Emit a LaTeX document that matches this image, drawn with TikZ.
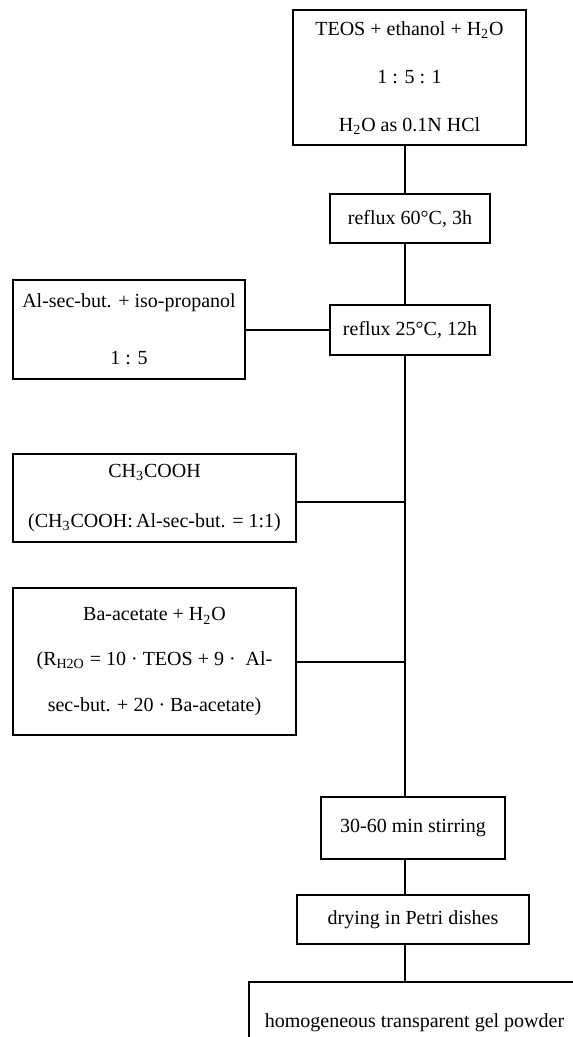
\documentclass[tikz,border=0pt]{standalone}
\usepackage{fontspec}
\setmainfont{Liberation Serif}
\usepackage{tikz}
\usetikzlibrary{positioning,calc}

\tikzset{
    stepbox/.style={draw, line width=1pt, align=center, inner sep=0pt,
        font=\fontsize{10}{#1}\selectfont},
    stepbox/.default=12,
    link/.style={line width=1pt}
}

\begin{document}
\begin{tikzpicture}[x=0.5pt, y=-0.5pt]
    \useasboundingbox (0,0) rectangle (572,1037);
    \coordinate (spine) at (405,0);

    % Main line
    \node[stepbox=24, minimum width=116.5pt, minimum height=67.5pt] (teos) at (409.5,78)
        {TEOS + ethanol + H\textsubscript{2}O\\ 1 : 5 : 1\\ H\textsubscript{2}O as 0.1N HCl};
    \node[stepbox, minimum width=80pt, minimum height=24.5pt] (reflux60) at (410,218.5)
        {reflux 60°C, 3h};
    \node[stepbox, minimum width=80pt, minimum height=25pt] (reflux25) at (410,330)
        {reflux 25°C, 12h};
    \node[stepbox, minimum width=92pt, minimum height=31pt] (stir) at (413,828)
        {30-60 min stirring};
    \node[stepbox, minimum width=116pt, minimum height=24.5pt] (dry) at (413,919.5)
        {drying in Petri dishes};
    \node[stepbox, minimum width=165.5pt, minimum height=41pt] (gel) at (414.5,1023)
        {homogeneous transparent gel powder};

    % Side additions
    \node[stepbox=28.5, minimum width=116pt, minimum height=49.5pt] (alsec) at (129,329.5)
        {Al-sec-but. + iso-propanol\\ 1 : 5};
    \node[stepbox=25, minimum width=141.5pt, minimum height=44pt] (acid) at (154.5,498)
        {CH\textsubscript{3}COOH\\ (CH\textsubscript{3}COOH:\,Al-sec-but. = 1:1)};
    \node[stepbox=22.5, minimum width=141.5pt, minimum height=73.5pt] (baac) at (154.5,661.5)
        {Ba-acetate + H\textsubscript{2}O\\ (R\textsubscript{H2O} = 10 · TEOS + 9 · \ Al-\\ sec-but. + 20 · Ba-acetate)};

    % Connectors
    \draw[link] (teos.south -| spine) -- (reflux60.north -| spine);
    \draw[link] (reflux60.south -| spine) -- (reflux25.north -| spine);
    \draw[link] (reflux25.south -| spine) -- (stir.north -| spine);
    \draw[link] (stir.south -| spine) -- (dry.north -| spine);
    \draw[link] (dry.south -| spine) -- (gel.north -| spine);
    \draw[link] (alsec.east |- reflux25.west) -- (reflux25.west);
    \draw[link] ([yshift=-2pt]acid.east) -- ([yshift=-2pt]acid.east -| spine);
    \draw[link] (baac.east) -- (baac.east -| spine);
\end{tikzpicture}
\end{document}
